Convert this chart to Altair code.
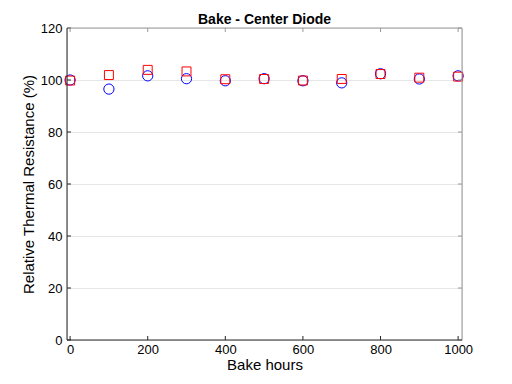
import altair as alt
import pandas as pd

hours = [0, 100, 200, 300, 400, 500, 600, 700, 800, 900, 1000]
circle_vals = [100.0, 96.5, 101.6, 100.5, 99.7, 100.5, 99.7, 98.9, 102.4, 100.4, 101.6]
square_vals = [99.8, 101.9, 103.9, 103.3, 100.3, 100.4, 99.8, 100.4, 102.3, 100.9, 101.3]

x_ticks = [0, 200, 400, 600, 800, 1000]
y_ticks = [0, 20, 40, 60, 80, 100, 120]
title_text = ["Bake - Center Diode"]

W, H = 395, 312
FONT = "Liberation Sans"
DARK = "#262626"
LIGHT = "#9a9a9a"

df_c = pd.DataFrame({"h": hours, "v": circle_vals})
df_s = pd.DataFrame({"h": hours, "v": square_vals})
df_xt = pd.DataFrame({"h": x_ticks})
df_yt = pd.DataFrame({"v": y_ticks})
df_title = pd.DataFrame({"t": title_text})

xs = alt.Scale(domain=[-8, 1010], nice=False, zero=False)
ys = alt.Scale(domain=[0, 120], nice=False)

base_x = alt.X("h:Q", scale=xs, title="Bake hours",
               axis=alt.Axis(values=x_ticks, ticks=False, grid=False, domain=False,
                             labelPadding=3, titlePadding=1, labelFontSize=13,
                             titleFontSize=15, labelFont=FONT, titleFont=FONT, format="d",
                             titleFontWeight="normal", labelColor="black", titleColor="black"))
base_y = alt.Y("v:Q", scale=ys, title="Relative Thermal Resistance (%)",
               axis=alt.Axis(values=y_ticks, ticks=False, grid=True, gridColor="#e6e6e6",
                             domain=False, labelPadding=5, titlePadding=4, labelFontSize=13,
                             titleFontSize=15, labelFont=FONT, titleFont=FONT,
                             titleFontWeight="normal", labelColor="black", titleColor="black"))

circles = alt.Chart(df_c).mark_point(shape="circle", filled=False, color="#0000ff",
                                     size=105, strokeWidth=1, opacity=1).encode(x=base_x, y=base_y)
squares = alt.Chart(df_s).mark_point(shape="square", filled=False, color="#ff0000",
                                     size=80, strokeWidth=1, opacity=1).encode(
    x=alt.X("h:Q", scale=xs), y=alt.Y("v:Q", scale=ys))

xt_bottom = alt.Chart(df_xt).mark_rule(color=DARK, strokeWidth=1).encode(
    x=alt.X("h:Q", scale=xs), y=alt.value(H), y2=alt.value(H - 4))
xt_top = alt.Chart(df_xt).mark_rule(color=LIGHT, strokeWidth=1).encode(
    x=alt.X("h:Q", scale=xs), y=alt.value(0), y2=alt.value(4))
yt_left = alt.Chart(df_yt).mark_rule(color=DARK, strokeWidth=1).encode(
    y=alt.Y("v:Q", scale=ys), x=alt.value(0), x2=alt.value(4))
yt_right = alt.Chart(df_yt).mark_rule(color=LIGHT, strokeWidth=1).encode(
    y=alt.Y("v:Q", scale=ys), x=alt.value(W), x2=alt.value(W - 4))

frame_left = alt.Chart(df_title).mark_rule(color=DARK, strokeWidth=1).encode(
    x=alt.value(0), y=alt.value(0), y2=alt.value(H))
frame_bottom = alt.Chart(df_title).mark_rule(color=DARK, strokeWidth=1).encode(
    y=alt.value(H), x=alt.value(0), x2=alt.value(W))
frame_top = alt.Chart(df_title).mark_rule(color=LIGHT, strokeWidth=1).encode(
    y=alt.value(0), x=alt.value(0), x2=alt.value(W))
frame_right = alt.Chart(df_title).mark_rule(color=LIGHT, strokeWidth=1).encode(
    x=alt.value(W), y=alt.value(0), y2=alt.value(H))

title = alt.Chart(df_title).mark_text(font=FONT, fontSize=14, fontWeight="bold",
                                      color="black", baseline="alphabetic", align="center").encode(
    text="t:N", x=alt.value(W / 2), y=alt.value(-4))

chart = alt.layer(circles, squares, xt_bottom, xt_top, yt_left, yt_right,
                  frame_top, frame_right, frame_left, frame_bottom, title).properties(
    width=W, height=H,
    autosize=alt.AutoSizeParams(type="none"),
    padding={"left": 59, "top": 20, "right": 42, "bottom": 36},
).configure_view(stroke=None).configure(background="white")

chart.save("out.html", embed_options={"renderer": "svg", "actions": False})
